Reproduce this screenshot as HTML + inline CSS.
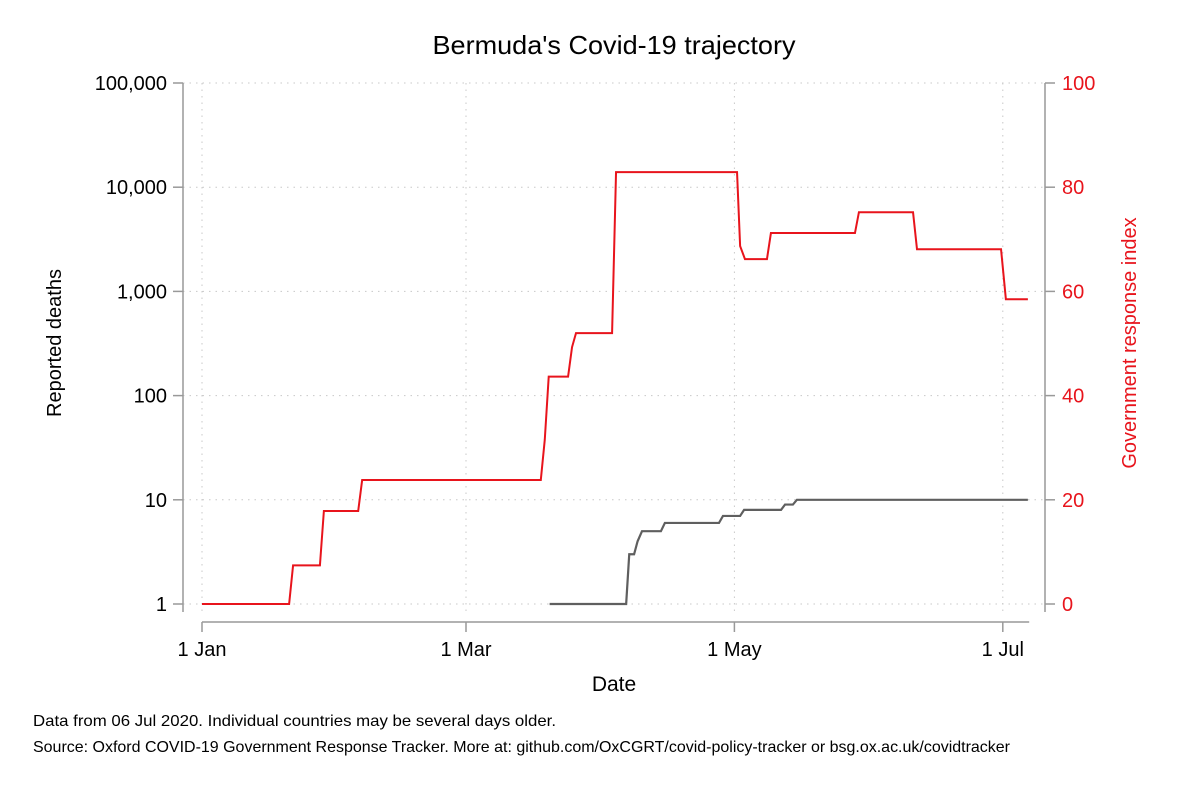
<!DOCTYPE html>
<html><head><meta charset="utf-8"><style>
body{margin:0;background:#fff;}
svg text{font-family:"Liberation Sans",Arial,sans-serif;}
</style></head><body>
<svg id="chart" width="1184" height="789" xmlns="http://www.w3.org/2000/svg">
<rect width="1184" height="789" fill="#fff"/>
<text x="614" y="54" font-size="26" text-anchor="middle" textLength="363" lengthAdjust="spacingAndGlyphs">Bermuda's Covid-19 trajectory</text>
<g id="grid"></g><g id="axes"></g><g id="series"></g>
<text transform="translate(61,343) rotate(-90)" font-size="20" text-anchor="middle">Reported deaths</text>
<text transform="translate(1136,343) rotate(-90)" font-size="20" text-anchor="middle" fill="#e8141c">Government response index</text>
<text x="614" y="691" font-size="21" text-anchor="middle">Date</text>
<text x="33" y="726" font-size="16" textLength="523" lengthAdjust="spacingAndGlyphs">Data from 06 Jul 2020. Individual countries may be several days older.</text>
<text x="33" y="752" font-size="16" textLength="977" lengthAdjust="spacingAndGlyphs">Source: Oxford COVID-19 Government Response Tracker. More at: github.com/OxCGRT/covid-policy-tracker or bsg.ox.ac.uk/covidtracker</text>
</svg>
<script>
const xTickDays=[0,60,121,182];
const xTickLabels=["1 Jan","1 Mar","1 May","1 Jul"];
const yTickValues=[1,10,100,1000,10000,100000];
const yTickLabels=["1","10","100","1,000","10,000","100,000"];
const y2TickValues=[0,20,40,60,80,100];
const deathDays=[79,96.4,97.1,98.2,99,100,104.3,105.2,117.5,118.4,122.3,123.2,131.6,132.5,134.3,135.2,187.7];
const deathValues=[1,1,3,3,4,5,5,6,6,7,7,8,8,9,9,10,10];
const indexDays=[0,19.8,20.7,26.8,27.7,35.5,36.4,77,77.9,78.8,83.2,84.1,85,93.2,94.1,121.6,122.3,123.4,128.4,129.3,148.4,149.3,161.6,162.5,181.6,182.7,187.7];
const indexValues=[0,0,7.41,7.41,17.86,17.86,23.81,23.81,31.5,43.65,43.65,49.3,52,52,82.9,82.9,68.7,66.2,66.2,71.2,71.2,75.2,75.2,68.1,68.1,58.5,58.5];

const NS="http://www.w3.org/2000/svg";
const X0=202,PXD=4.4,YB=604,YT=83,L=183,R=1045;
const xs=d=>X0+d*PXD;
const ysLog=v=>YB-(YB-YT)*Math.log10(v)/5;
const ys2=v=>YB-(YB-YT)*v/100;
function mk(tag,attrs,parent){const e=document.createElementNS(NS,tag);for(const k in attrs)e.setAttribute(k,attrs[k]);parent.appendChild(e);return e;}
const grid=document.getElementById('grid'),axes=document.getElementById('axes'),ser=document.getElementById('series');
yTickValues.forEach((v,i)=>{const y=ysLog(v);
 const g=mk('line',{x1:L,x2:R,y1:y,y2:y,stroke:'#c8c8c8','stroke-dasharray':'1.5 5'},grid);
 
 
 mk('line',{x1:173,x2:L,y1:y,y2:y,stroke:'#999','stroke-width':1.5},axes);
 const t=mk('text',{x:167,y:y+7,'font-size':20,'text-anchor':'end'},axes);t.textContent=yTickLabels[i];
 
 
});
y2TickValues.forEach(v=>{const y=ys2(v);
 mk('line',{x1:R,x2:1055,y1:y,y2:y,stroke:'#999','stroke-width':1.5},axes);
 const t=mk('text',{x:1062,y:y+7,'font-size':20,fill:'#e8141c'},axes);t.textContent=v;
 
 
});
xTickDays.forEach((d,i)=>{const x=xs(d);
 const g=mk('line',{x1:x,x2:x,y1:YT,y2:YB+10,stroke:'#c8c8c8','stroke-dasharray':'1.5 5'},grid);
 
 
 mk('line',{x1:x,x2:x,y1:622,y2:632,stroke:'#999','stroke-width':1.5},axes);
 const t=mk('text',{x:x,y:656,'font-size':20,'text-anchor':'middle'},axes);t.textContent=xTickLabels[i];
 
 
});
const la=mk('line',{x1:L,x2:L,y1:YT,y2:612,stroke:'#999','stroke-width':1.5},axes);


const ra=mk('line',{x1:R,x2:R,y1:YT,y2:612,stroke:'#999','stroke-width':1.5},axes);


const ba=mk('line',{x1:xs(0),x2:xs(188),y1:622,y2:622,stroke:'#999','stroke-width':1.5},axes);


const ip=mk('polyline',{points:indexDays.map((d,i)=>xs(d)+','+ys2(indexValues[i])).join(' '),fill:'none',stroke:'#e8141c','stroke-width':2},ser);


const dp=mk('polyline',{points:deathDays.map((d,i)=>xs(d)+','+ysLog(deathValues[i])).join(' '),fill:'none',stroke:'#5f5f5f','stroke-width':2.2},ser);


</script>
</body></html>
